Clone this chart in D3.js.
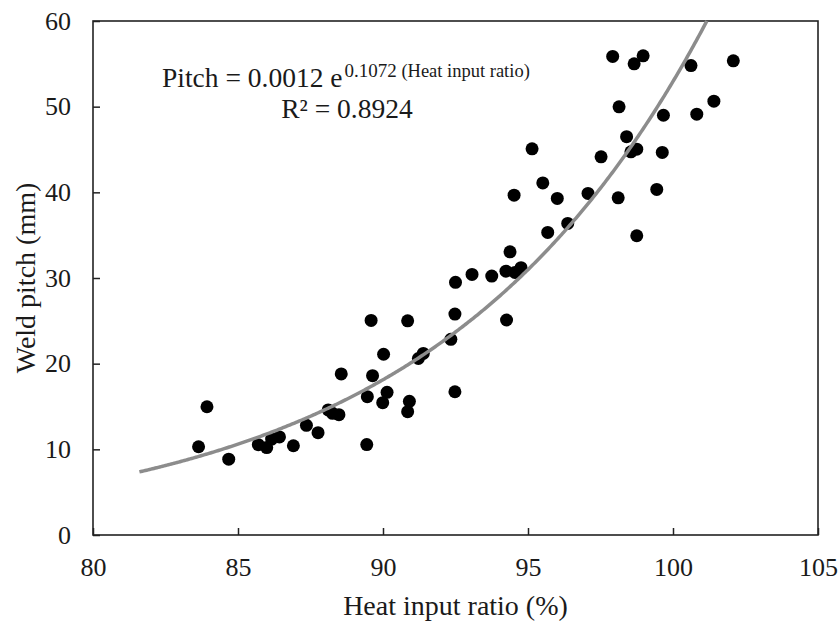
<!DOCTYPE html>
<html>
<head>
<meta charset="utf-8">
<script src="https://cdn.jsdelivr.net/npm/d3@7"></script>
<style>
  body { margin: 0; background: #fff; }
  text { font-family: "Liberation Serif", "Times New Roman", serif; fill: #1a1a1a; }
</style>
</head>
<body>
<div id="chart"></div>
<script>
// measured points: heat input ratio (%) and weld pitch (mm)
const heatInput = [
  83.64, 83.93, 84.68, 85.70, 85.99, 86.16, 86.43, 86.91, 87.36, 87.76,
  88.11, 88.26, 88.48, 88.56, 89.44, 89.46, 89.59, 89.64, 90.02, 89.99,
  90.14, 90.85, 90.91, 90.85, 91.22, 91.39, 92.34, 92.48, 92.50, 92.48,
  93.07, 93.75, 94.24, 94.38, 94.55, 94.76, 94.26, 94.52, 95.14, 95.51,
  96.01, 95.68, 96.37, 97.07, 97.52, 98.11, 98.40, 98.55, 98.75, 98.75,
  99.44, 99.63, 97.92, 98.66, 98.97, 100.62, 102.08, 98.14, 99.67, 100.82,
  101.41
]
const weldPitch = [
  10.3, 14.97, 8.85, 10.54, 10.2, 11.2, 11.45, 10.42, 12.8, 11.95,
  14.6, 14.2, 14.05, 18.8, 10.55, 16.15, 25.05, 18.6, 21.1, 15.45,
  16.65, 25.0, 15.6, 14.4, 20.6, 21.2, 22.84, 25.79, 29.5, 16.72,
  30.42, 30.22, 30.8, 33.06, 30.65, 31.2, 25.1, 39.67, 45.08, 41.1,
  39.29, 35.32, 36.37, 39.87, 44.14, 39.36, 46.5, 44.73, 45.04, 34.93,
  40.34, 44.66, 55.86, 55.0, 55.93, 54.8, 55.35, 49.98, 49.0, 49.12,
  50.64
]

const xTicks = [80, 85, 90, 95, 100, 105]
const yTicks = [0, 10, 20, 30, 40, 50, 60]

// exponential trendline (label shows rounded coefficients)
const fitA = 0.00117, fitB = 0.1072
const fitStart = 81.6
const fitLabel = 'Pitch = 0.0012 e'
const fitExp = '0.1072'
const fitExpVar = ' (Heat input ratio)'
const r2Label = 'R² = 0.8924'

const width = 840,
height = 621
const margin = { top: 21, right: 22, bottom: 86, left: 93 }
const w = width - margin.left - margin.right
const h = height - margin.top - margin.bottom

let svg = d3.select('#chart')
  .append('svg')
  .attr('width', width)
  .attr('height', height)

let g = svg.append('g')
  .attr('transform', `translate(${margin.left},${margin.top})`)

const xScale = d3.scaleLinear().domain([80, 105]).range([0, w])
const yScale = d3.scaleLinear().domain([0, 60]).range([h, 0])

// axes with inward ticks
const xAxis = d3.axisBottom(xScale).tickValues(xTicks).tickSize(-7).tickPadding(23)
const yAxis = d3.axisLeft(yScale).tickValues(yTicks).tickSize(-7).tickPadding(22)

let gx = g.append('g')
  .attr('transform', `translate(0,${h})`)
  .call(xAxis)
let gy = g.append('g').call(yAxis)

;[gx, gy].forEach(a => {
  a.select('.domain').remove()
  a.selectAll('.tick line').attr('stroke', '#222').attr('stroke-width', 1.5)
  a.selectAll('.tick text')
    .style('font-family', '"Liberation Serif", serif')
    .style('font-size', '26px')
    .attr('fill', '#1a1a1a')
})

// frame
g.append('rect')
  .attr('x', 0).attr('y', 0)
  .attr('width', w).attr('height', h)
  .attr('fill', 'none')
  .attr('stroke', '#222')
  .attr('stroke-width', 1.6)

// points
let data = heatInput.map((x, i) => ({ x: x, y: weldPitch[i] }))

g.selectAll('circle.pt')
  .data(data)
  .enter()
  .append('circle')
  .attr('class', 'pt')
  .attr('cx', d => xScale(d.x))
  .attr('cy', d => yScale(d.y))
  .attr('r', 6.5)
  .attr('fill', '#000')

// trendline, cut where it leaves the top of the plot
const fitEnd = Math.log(60 / fitA) / fitB
const curve = d3.range(fitStart, fitEnd, 0.05).concat([fitEnd])
  .map(x => ({ x: x, y: fitA * Math.exp(fitB * x) }))

g.append('path')
  .datum(curve)
  .attr('fill', 'none')
  .attr('stroke', '#8c8c8c')
  .attr('stroke-width', 3.5)
  .attr('d', d3.line().x(d => xScale(d.x)).y(d => yScale(d.y)))

// equation
let eq = svg.append('text')
  .attr('x', 162)
  .attr('y', 87)
  .style('font-size', '27.5px')
eq.append('tspan').text(fitLabel)
eq.append('tspan').attr('dy', -10).attr('dx', 2).style('font-size', '19px').text(fitExp)
eq.append('tspan').style('font-size', '18.5px').text(fitExpVar)

svg.append('text')
  .attr('x', 347)
  .attr('y', 118)
  .attr('text-anchor', 'middle')
  .style('font-size', '27.5px')
  .text(r2Label)

// axis titles
svg.append('text')
  .attr('x', margin.left + w / 2)
  .attr('y', 615)
  .attr('text-anchor', 'middle')
  .style('font-size', '28px')
  .text('Heat input ratio (%)')

svg.append('text')
  .attr('transform', `translate(35,${margin.top + h / 2}) rotate(-90)`)
  .attr('text-anchor', 'middle')
  .style('font-size', '28px')
  .text('Weld pitch (mm)')
</script>
</body>
</html>
